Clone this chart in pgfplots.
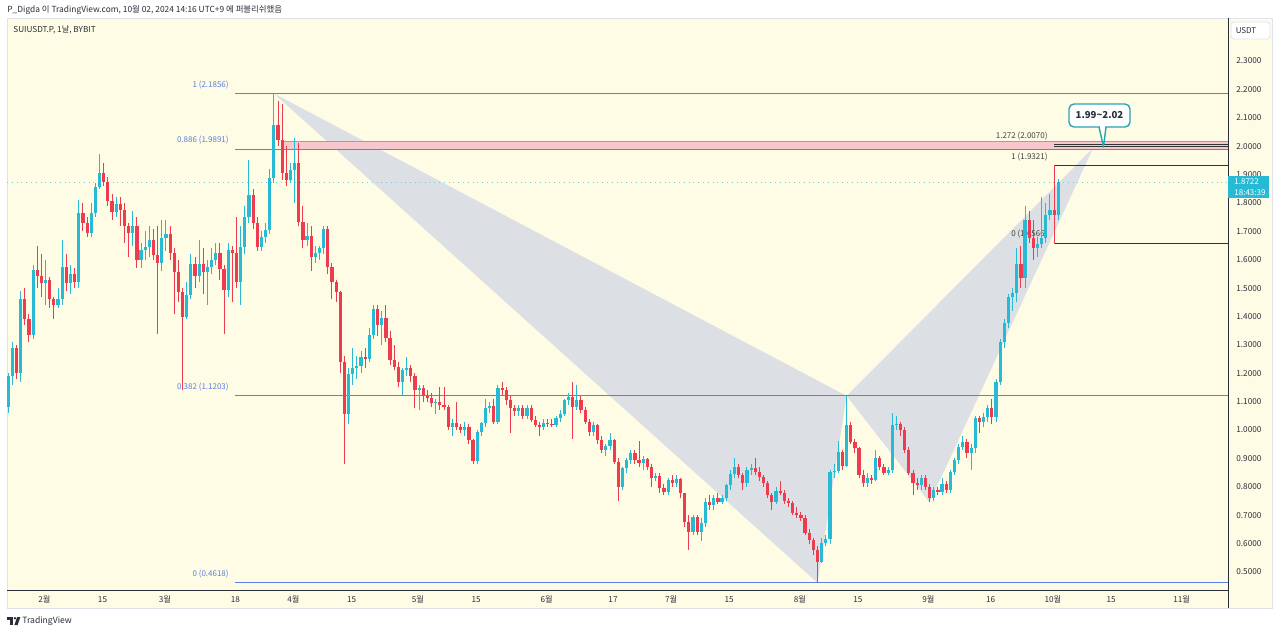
\documentclass[border=0pt]{standalone}
\usepackage{pgfplots}
\pgfplotsset{compat=1.18}
\usepackage{pgfplotstable}
\usepackage{fontspec}
\setmainfont{Noto Sans CJK KR}

\definecolor{upc}{HTML}{26BAD4}
\definecolor{dnc}{HTML}{EF3B50}
\definecolor{cream}{HTML}{FFFCE6}
\definecolor{fibblue}{HTML}{5B7FE3}
\definecolor{harm}{HTML}{DCE0E4}
\definecolor{zonefill}{HTML}{F8C6CD}
\definecolor{zoneline}{HTML}{E8808C}
\definecolor{tvtext}{HTML}{2A2E39}
\definecolor{panelline}{HTML}{E0E3EB}
\definecolor{callout}{HTML}{2AA3B2}

% daily candles, k = days from 1 Feb 2024 (open, high, low, close)
% rising days
\pgfplotstableread{
k o h l c
-8 1.08 1.20 1.06 1.19
-7 1.19 1.31 1.16 1.29
-5 1.20 1.49 1.17 1.46
-2 1.335 1.58 1.32 1.563
1 1.517 1.60 1.44 1.528
4 1.44 1.50 1.43 1.46
5 1.46 1.67 1.44 1.575
7 1.517 1.58 1.48 1.55
9 1.52 1.81 1.50 1.763
12 1.695 1.80 1.68 1.763
13 1.763 1.87 1.75 1.857
14 1.857 1.974 1.85 1.906
18 1.769 1.82 1.75 1.798
22 1.693 1.77 1.65 1.718
24 1.60 1.66 1.57 1.636
25 1.636 1.70 1.60 1.645
26 1.645 1.72 1.61 1.671
29 1.587 1.74 1.56 1.675
30 1.675 1.74 1.63 1.69
35 1.397 1.52 1.39 1.475
36 1.475 1.62 1.46 1.585
38 1.542 1.67 1.52 1.585
40 1.557 1.60 1.44 1.575
41 1.575 1.64 1.55 1.60
42 1.60 1.66 1.58 1.622
45 1.493 1.66 1.47 1.634
48 1.523 1.72 1.44 1.646
49 1.646 1.79 1.62 1.752
50 1.752 1.95 1.73 1.828
53 1.646 1.70 1.63 1.681
54 1.681 1.73 1.66 1.705
55 1.705 1.92 1.69 1.887
56 1.887 2.1856 1.87 2.075
60 1.881 1.94 1.87 1.916
61 1.916 2.03 1.80 1.94
64 1.67 1.73 1.65 1.684
66 1.611 1.65 1.59 1.625
67 1.625 1.65 1.60 1.64
68 1.64 1.72 1.62 1.71
74 1.058 1.22 1.02 1.197
75 1.197 1.29 1.16 1.217
76 1.217 1.26 1.18 1.225
77 1.225 1.28 1.20 1.258
79 1.252 1.36 1.24 1.334
80 1.334 1.44 1.32 1.425
82 1.37 1.42 1.30 1.393
87 1.17 1.22 1.124 1.211
88 1.211 1.258 1.19 1.217
91 1.141 1.16 1.07 1.147
95 1.094 1.11 1.055 1.10
99 1.012 1.04 0.98 1.026
102 1.0 1.03 0.98 1.012
105 0.892 1.00 0.88 0.994
106 0.994 1.03 0.98 1.024
107 1.024 1.11 1.01 1.077
108 1.077 1.10 1.06 1.085
110 1.03 1.16 1.02 1.147
115 1.068 1.09 1.05 1.077
117 1.05 1.09 1.04 1.077
121 1.012 1.04 1.00 1.026
124 1.018 1.05 1.01 1.041
125 1.041 1.07 1.03 1.056
126 1.056 1.11 1.05 1.106
127 1.106 1.13 1.09 1.118
129 1.082 1.16 1.07 1.106
133 0.994 1.03 0.98 1.018
136 0.93 0.95 0.91 0.944
137 0.944 0.99 0.93 0.965
140 0.80 0.87 0.79 0.865
141 0.865 0.90 0.85 0.895
142 0.895 0.93 0.88 0.918
145 0.883 0.91 0.86 0.897
148 0.83 0.85 0.82 0.838
151 0.783 0.83 0.77 0.824
153 0.815 0.84 0.80 0.826
157 0.642 0.70 0.63 0.695
159 0.642 0.69 0.61 0.674
160 0.674 0.76 0.66 0.748
162 0.736 0.77 0.72 0.76
164 0.748 0.77 0.74 0.76
165 0.76 0.81 0.75 0.806
166 0.806 0.86 0.79 0.845
167 0.845 0.90 0.83 0.869
170 0.812 0.87 0.80 0.859
171 0.859 0.88 0.84 0.866
177 0.748 0.80 0.74 0.785
188 0.537 0.62 0.53 0.603
189 0.603 0.63 0.59 0.615
190 0.615 0.86 0.60 0.853
191 0.853 0.88 0.83 0.857
192 0.857 0.96 0.85 0.924
194 0.873 1.1203 0.87 1.018
199 0.813 0.85 0.80 0.83
201 0.824 0.93 0.82 0.90
204 0.85 0.87 0.84 0.86
205 0.86 1.06 0.85 1.018
206 1.018 1.05 1.00 1.02
212 0.806 0.84 0.79 0.83
215 0.76 0.80 0.75 0.79
217 0.783 0.83 0.77 0.81
219 0.79 0.86 0.78 0.853
220 0.853 0.90 0.84 0.895
221 0.895 0.95 0.88 0.941
222 0.941 0.98 0.93 0.959
224 0.918 0.95 0.86 0.936
225 0.936 1.05 0.92 1.041
227 1.03 1.06 1.01 1.047
228 1.047 1.09 1.03 1.077
230 1.047 1.18 1.03 1.17
231 1.17 1.32 1.16 1.311
232 1.311 1.39 1.29 1.378
233 1.378 1.48 1.36 1.47
234 1.47 1.50 1.42 1.482
235 1.482 1.64 1.45 1.585
237 1.535 1.79 1.50 1.74
240 1.64 1.68 1.61 1.657
241 1.657 1.82 1.64 1.675
242 1.675 1.80 1.66 1.757
243 1.757 1.83 1.74 1.775
245 1.757 1.885 1.74 1.8722
}\upcandles

% falling days
\pgfplotstableread{
k o h l c
-6 1.29 1.30 1.18 1.20
-4 1.46 1.50 1.37 1.39
-3 1.39 1.41 1.31 1.335
-1 1.563 1.65 1.50 1.542
0 1.542 1.62 1.47 1.517
2 1.528 1.54 1.43 1.46
3 1.46 1.47 1.39 1.44
6 1.575 1.62 1.49 1.517
8 1.55 1.57 1.50 1.52
10 1.763 1.80 1.70 1.73
11 1.73 1.75 1.68 1.695
15 1.906 1.94 1.86 1.874
16 1.874 1.89 1.79 1.808
17 1.808 1.83 1.74 1.769
19 1.798 1.82 1.72 1.775
20 1.775 1.80 1.66 1.718
21 1.718 1.73 1.61 1.693
23 1.718 1.75 1.57 1.60
27 1.671 1.71 1.60 1.616
28 1.616 1.72 1.34 1.587
31 1.69 1.72 1.60 1.622
32 1.622 1.64 1.41 1.557
33 1.557 1.60 1.45 1.487
34 1.487 1.50 1.14 1.397
37 1.585 1.61 1.50 1.542
39 1.585 1.64 1.48 1.557
43 1.622 1.66 1.53 1.569
44 1.569 1.58 1.34 1.493
46 1.634 1.65 1.45 1.623
47 1.623 1.75 1.50 1.523
51 1.828 1.85 1.71 1.73
52 1.73 1.75 1.63 1.646
57 2.075 2.16 2.00 2.022
58 2.022 2.15 1.88 1.904
59 1.904 2.00 1.86 1.881
62 1.94 2.01 1.72 1.734
63 1.734 1.79 1.64 1.67
65 1.684 1.72 1.56 1.611
69 1.71 1.72 1.55 1.576
70 1.576 1.59 1.46 1.523
71 1.523 1.53 1.45 1.488
72 1.488 1.49 1.20 1.24
73 1.24 1.26 0.88 1.058
78 1.258 1.29 1.22 1.252
81 1.425 1.44 1.33 1.37
83 1.393 1.44 1.31 1.323
84 1.323 1.35 1.23 1.247
85 1.247 1.30 1.21 1.223
86 1.223 1.24 1.15 1.17
89 1.217 1.23 1.17 1.19
90 1.19 1.20 1.077 1.141
92 1.147 1.16 1.10 1.12
93 1.12 1.14 1.10 1.112
94 1.112 1.13 1.08 1.094
96 1.10 1.15 1.07 1.088
97 1.088 1.15 1.07 1.08
98 1.08 1.09 1.00 1.012
100 1.026 1.10 1.00 1.01
101 1.01 1.02 0.99 1.0
103 1.012 1.02 0.95 0.965
104 0.965 0.97 0.88 0.892
109 1.085 1.11 1.02 1.03
111 1.147 1.17 1.12 1.141
112 1.141 1.15 1.09 1.106
113 1.106 1.12 0.99 1.077
114 1.077 1.09 1.05 1.068
116 1.077 1.09 1.04 1.05
118 1.077 1.09 1.03 1.036
119 1.036 1.05 1.01 1.018
120 1.018 1.03 0.98 1.012
122 1.026 1.04 1.01 1.022
123 1.022 1.04 1.01 1.018
128 1.118 1.17 0.97 1.082
130 1.106 1.12 1.06 1.07
131 1.07 1.08 1.02 1.03
132 1.03 1.04 0.98 0.994
134 1.018 1.02 0.95 0.965
135 0.965 0.98 0.92 0.93
138 0.965 0.97 0.88 0.889
139 0.889 0.90 0.75 0.80
143 0.918 0.93 0.88 0.895
144 0.895 0.96 0.87 0.883
146 0.897 0.90 0.86 0.871
147 0.871 0.88 0.80 0.83
149 0.838 0.85 0.78 0.795
150 0.795 0.81 0.77 0.783
152 0.824 0.84 0.80 0.815
154 0.826 0.83 0.76 0.777
155 0.777 0.78 0.66 0.677
156 0.677 0.70 0.578 0.642
158 0.695 0.70 0.63 0.642
161 0.748 0.77 0.72 0.736
163 0.76 0.78 0.74 0.748
168 0.869 0.88 0.83 0.842
169 0.842 0.85 0.79 0.812
172 0.866 0.90 0.84 0.853
173 0.853 0.87 0.82 0.834
174 0.834 0.84 0.80 0.812
175 0.812 0.82 0.76 0.771
176 0.771 0.78 0.72 0.748
178 0.785 0.82 0.77 0.78
179 0.78 0.79 0.74 0.751
180 0.751 0.76 0.73 0.742
181 0.742 0.75 0.70 0.707
182 0.707 0.73 0.69 0.70
183 0.70 0.71 0.68 0.69
184 0.69 0.70 0.63 0.639
185 0.639 0.65 0.60 0.613
186 0.613 0.62 0.56 0.578
187 0.578 0.59 0.4618 0.537
193 0.924 0.93 0.86 0.873
195 1.018 1.03 0.95 0.959
196 0.959 0.97 0.92 0.936
197 0.936 0.94 0.83 0.842
198 0.842 0.86 0.80 0.813
200 0.83 0.84 0.81 0.824
202 0.90 0.91 0.86 0.871
203 0.871 0.88 0.84 0.85
207 1.02 1.03 0.98 1.0
208 1.0 1.01 0.92 0.93
209 0.93 0.94 0.84 0.848
210 0.848 0.86 0.77 0.813
211 0.813 0.83 0.79 0.806
213 0.83 0.84 0.79 0.80
214 0.80 0.81 0.745 0.76
216 0.79 0.80 0.77 0.783
218 0.81 0.82 0.78 0.79
223 0.959 0.97 0.90 0.918
226 1.041 1.05 0.99 1.03
229 1.077 1.11 1.02 1.047
236 1.585 1.65 1.50 1.535
238 1.74 1.77 1.66 1.675
239 1.675 1.74 1.60 1.64
244 1.775 1.9321 1.6566 1.757
}\dncandles

\pgfplotsset{
  stick/.style 2 args={draw=none, mark=none, forget plot,
    error bars/.cd, y dir=plus, y explicit, error mark=none,
    error bar style={draw=#1, line width=#2, line cap=butt}},
}

\begin{document}
\begin{tikzpicture}[x=0.5pt, y=-0.5pt]
\useasboundingbox (0,0) rectangle (1280,634);
\fill[white] (0,0) rectangle (1280,634);
\fill[cream] (7,18) rectangle (1272,608);
\draw[panelline, line width=0.5pt] (7,18) rectangle (1272,608);

\begin{axis}[
  at={(3.5pt,-10pt)}, anchor=north west,
  width=610.5pt, height=285pt, scale only axis,
  xmin=-8.3, xmax=285.9, ymin=0.4366, ymax=2.4444,
  axis x line*=bottom, axis y line*=right,
  axis line style={tvtext, line width=0.5pt},
  major tick length=0pt,
  xtick={0,14,29,46,60,74,90,104,121,137,151,165,182,196,213,228,243,257,274},
  xticklabels={2월,15,3월,18,4월,15,5월,15,6월,17,7월,15,8월,15,9월,16,10월,15,11월},
  ytick={0.5,0.6,0.7,0.8,0.9,1.0,1.1,1.2,1.3,1.4,1.5,1.6,1.7,1.8,1.9,2.0,2.1,2.2,2.3},
  yticklabel={\pgfmathprintnumber[fixed,fixed zerofill,precision=4,assume math mode=true]{\tick}},
  tick label style={font=\fontsize{4.1}{5}\selectfont, text=tvtext},
  yticklabel style={anchor=west, xshift=4pt, inner sep=0pt},
  xticklabel style={anchor=center, yshift=-4.6pt, xshift=1.5pt, inner sep=0pt},
  clip=true,
]

% harmonic pattern triangles
\addplot[fill=harm, draw=none] coordinates {(56,2.1856) (187,0.4618) (194,1.1203)} -- cycle;
\addplot[fill=harm, draw=none] coordinates {(194,1.1203) (214,0.745) (253.4,1.9935)} -- cycle;

% target zone
\addplot[fill=zonefill, draw=zoneline, line width=0.4pt] coordinates {(57.9,1.9891) (285.9,1.9891) (285.9,2.016) (57.9,2.016)} -- cycle;

% fib levels
\addplot[draw=fibblue, line width=0.5pt] coordinates {(46.6,2.1856) (285.9,2.1856)};
\addplot[draw=fibblue, line width=0.5pt] coordinates {(46.6,1.9891) (285.9,1.9891)};
\addplot[draw=fibblue, line width=0.5pt] coordinates {(46.6,1.1203) (285.9,1.1203)};
\addplot[draw=fibblue, line width=0.5pt] coordinates {(46.6,0.4618) (285.9,0.4618)};

\addplot[draw=black!80, line width=0.45pt] coordinates {(244,2.0070) (285.9,2.0070)};
\addplot[draw=black!80, line width=0.45pt] coordinates {(244,1.998) (285.9,1.998)};
\addplot[draw=black!80, line width=0.45pt] coordinates {(244,1.9321) (285.9,1.9321)};
\addplot[draw=black!80, line width=0.45pt] coordinates {(244,1.6566) (285.9,1.6566)};

% last price
\addplot[draw=upc!70, dotted, line width=0.4pt] coordinates {(-8.3,1.8722) (285.9,1.8722)};

\begin{scope}[font=\fontsize{4}{5}\selectfont, inner sep=0pt]
\node[anchor=east, text=fibblue, yshift=4pt] at (axis cs:45.2,2.1856) {1 (2.1856)};
\node[anchor=east, text=fibblue, yshift=4.5pt] at (axis cs:45.2,1.9891) {0.886 (1.9891)};
\node[anchor=east, text=fibblue, yshift=4.5pt] at (axis cs:45.2,1.1203) {0.382 (1.1203)};
\node[anchor=east, text=fibblue, yshift=4.5pt] at (axis cs:45.2,0.4618) {0 (0.4618)};
\node[anchor=east, text=black!75, yshift=4pt] at (axis cs:242.5,2.0070) {1.272 (2.0070)};
\node[anchor=east, text=black!75, yshift=4pt] at (axis cs:242.5,1.9321) {1 (1.9321)};
\node[anchor=east, text=black!75, yshift=5pt] at (axis cs:242.5,1.6566) {0 (1.6566)};
\end{scope}

% candles: wicks from low to high, bodies from the lower of open/close
\addplot[stick={upc}{0.5pt}] table[x=k, y=l, y error expr=\thisrow{h}-\thisrow{l}] {\upcandles};
\addplot[stick={dnc}{0.5pt}] table[x=k, y=l, y error expr=\thisrow{h}-\thisrow{l}] {\dncandles};
\addplot[stick={upc}{1.6pt}] table[x=k, y=o, y error expr=\thisrow{c}-\thisrow{o}] {\upcandles};
\addplot[stick={dnc}{1.6pt}] table[x=k, y=c, y error expr=\thisrow{o}-\thisrow{c}] {\dncandles};
\end{axis}

\draw[tvtext, line width=0.5pt] (1228,18) -- (1228,608);

% header and symbol
\node[anchor=west, inner sep=0pt, text=tvtext, font=\fontsize{4.2}{5}\selectfont] at (7,10) {P\_Digda 이 TradingView.com, 10월 02, 2024 14:16 UTC+9 에 퍼블리쉬했음};
\node[anchor=west, inner sep=0pt, text=tvtext, font=\fontsize{4.1}{5}\selectfont] at (13,30) {SUIUSDT.P, 1날, BYBIT};

% currency box
\draw[panelline, fill=white, rounded corners=1.5pt, line width=0.4pt] (1231,22) rectangle (1270,39);
\node[inner sep=0pt, text=tvtext, font=\fontsize{4}{5}\selectfont] at (1246,31) {USDT};

% last price tag
\fill[upc] (1228,176) rectangle (1269,198);
\node[inner sep=0pt, text=white, font=\fontsize{4}{5}\selectfont, anchor=west] at (1234,182) {1.8722};
\node[inner sep=0pt, text=white, font=\fontsize{4}{5}\selectfont, anchor=west] at (1234,192.5) {18:43:39};

% callout
\draw[callout, fill=white, line width=0.7pt, rounded corners=2.5pt] (1069,104) rectangle (1130,127);
\fill[white] (1099.8,125.5) rectangle (1105.4,128.5);
\draw[callout, line width=0.7pt, line join=round] (1099,127) -- (1103.5,147) -- (1106,127);
\node[inner sep=0pt, text=tvtext, font=\bfseries\fontsize{4.8}{5}\selectfont] at (1099.5,115.5) {1.99\textasciitilde 2.02};

% footer logo
\fill[tvtext] (7,617) rectangle (13,619.6);
\fill[tvtext] (10.4,619.6) rectangle (12.9,625);
\fill[tvtext] (15,618.3) circle (1.4);
\fill[tvtext] (17.2,617) -- (20.4,617) -- (17.6,625) -- (14.4,625) -- cycle;
\node[anchor=west, inner sep=0pt, text=tvtext, font=\fontsize{4.3}{5}\selectfont] at (22,621) {TradingView};
\end{tikzpicture}
\end{document}
